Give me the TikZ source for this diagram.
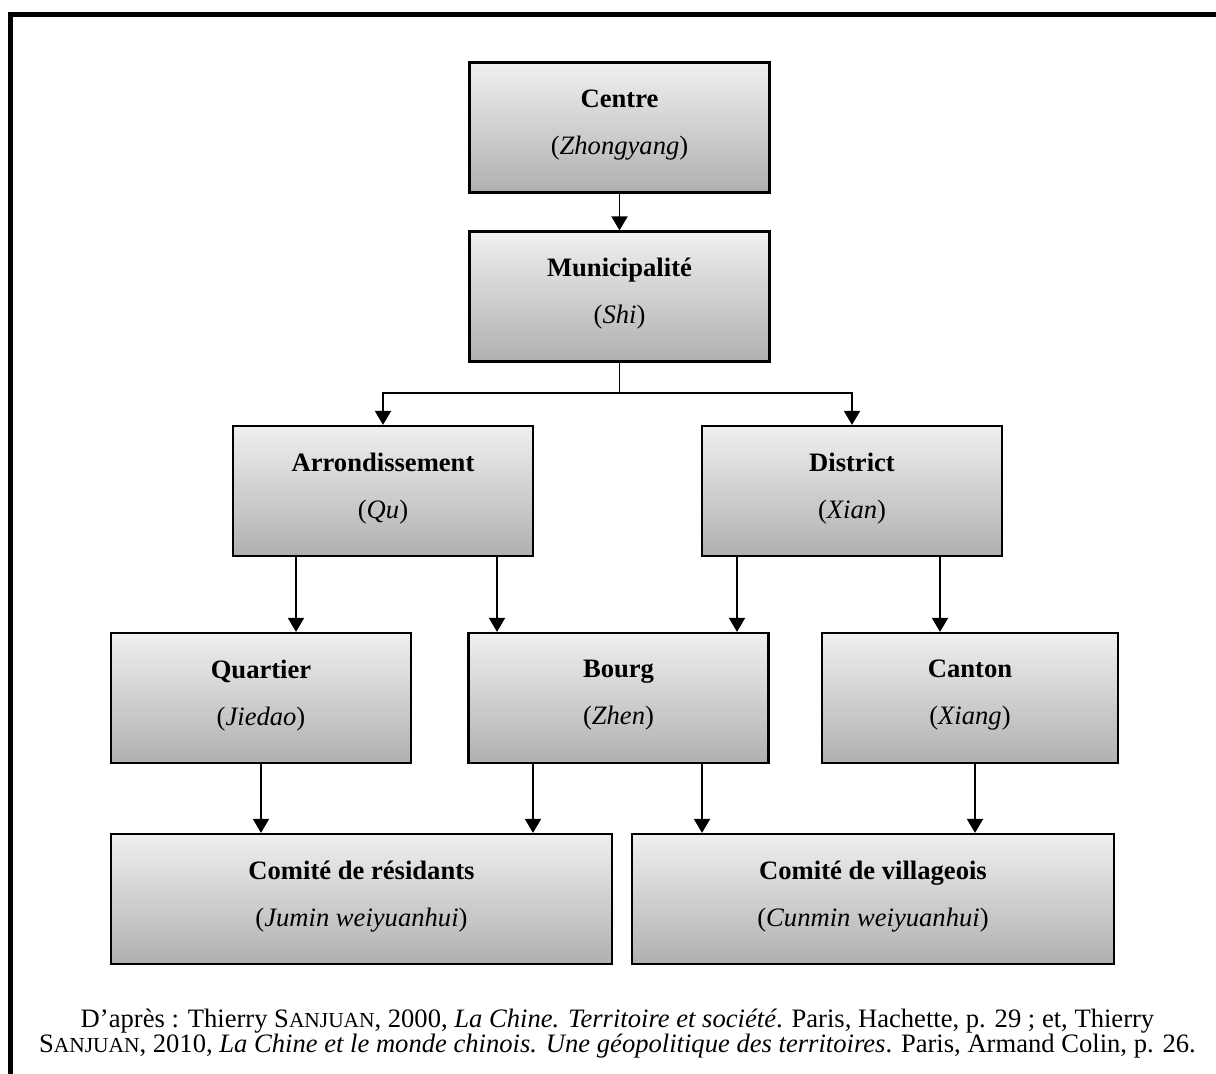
\documentclass[tikz,border=0pt]{standalone}
\usepackage{fontspec}
\setmainfont{Liberation Serif}
\usetikzlibrary{arrows.meta, positioning, calc}
\newcommand\petitcap[1]{{\fontsize{10.7}{13}\selectfont #1}}
\newcommand\niveau[2]{\textbf{#1}\\(\textit{#2})\rule[-5.5pt]{0pt}{0pt}}

\begin{document}
\begin{tikzpicture}[x=0.5pt,y=-0.5pt,
  niv/.style={rectangle,draw,line width=1.1pt,top color=gray!12,bottom color=gray!62,font=\fontsize{13.3}{23.5}\selectfont,inner sep=0pt,minimum width=150pt,minimum height=65pt,align=center},
  fl/.style={-{Triangle[length=7pt,width=8pt]},line width=0.95pt},
  src/.style={font=\fontsize{13.3}{13}\selectfont,inner sep=0pt,anchor=base}
]
  \useasboundingbox (0,0) rectangle (1216,1074);
  \draw[line width=2.5pt] (10,14.5) rectangle (1240,1100);

  \node[niv](Centre)   at (619.5,127.5) {\niveau{Centre}{Zhongyang}};
  \node[niv](Muni)     at (619.5,296.5) {\niveau{Municipalité}{Shi}};
  \node[niv](Arrond)   at (383,491)     {\niveau{Arrondissement}{Qu}};
  \node[niv](District) at (852,491)     {\niveau{District}{Xian}};
  \node[niv](Quartier) at (261,698)     {\niveau{Quartier}{Jiedao}};
  \node[niv](Bourg)    at (618.5,698)   {\niveau{Bourg}{Zhen}};
  \node[niv,minimum width=148pt](Canton) at (970,698) {\niveau{Canton}{Xiang}};
  \node[niv,minimum width=250.5pt](CResid)  at (361.5,899) {\niveau{Comité de résidants}{Jumin weiyuanhui}};
  \node[niv,minimum width=241pt](CVillag)   at (873,899)   {\niveau{Comité de villageois}{Cunmin weiyuanhui}};

  \draw[fl](Centre)--(Muni);
  \coordinate(emb) at (619.5,393);
  \draw[fl](Muni.south)--(emb)-|(Arrond.north);
  \draw[fl](emb)-|(District.north);
  \foreach \x/\a/\b in {296/Arrond/Quartier,497/Arrond/Bourg,737/District/Bourg,940/District/Canton,
                        261/Quartier/CResid,533/Bourg/CResid,702/Bourg/CVillag,975/Canton/CVillag}
    {\draw[fl](\x,0 |- \a.south)--(\x,0 |- \b.north);}

  % source
  \node[src](src1) at (617.5,1027) {D’après : Thierry S\petitcap{ANJUAN}, 2000, \textit{La Chine. Territoire et société}. Paris, Hachette, p. 29 ; et, Thierry};
  \node[src](src2) at (617.5,1052) {S\petitcap{ANJUAN}, 2010, \textit{La Chine et le monde chinois. Une géopolitique des territoires}. Paris, Armand Colin, p. 26.};
\end{tikzpicture}
\end{document}
